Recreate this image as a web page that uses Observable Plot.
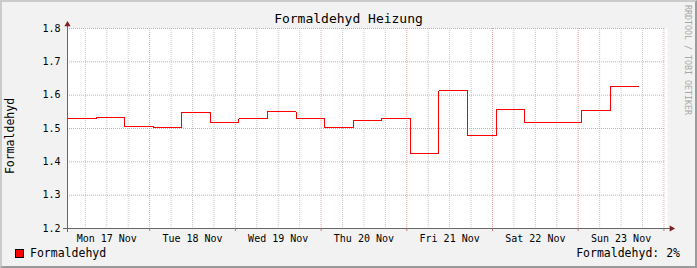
<!DOCTYPE html>
<html>
<head>
<meta charset="utf-8">
<script src="https://cdn.jsdelivr.net/npm/d3@7"></script>
<script src="https://cdn.jsdelivr.net/npm/@observablehq/plot@0.6"></script>
<style>
  html, body { margin: 0; padding: 0; background: #f2f2f2; }
  #wrap { position: relative; width: 697px; height: 268px; overflow: hidden; background: #f2f2f2;
          font-family: "DejaVu Sans Mono", monospace; color: #000; }
  #wrap svg { position: absolute; left: 0; top: 0; }
  .abs { position: absolute; white-space: nowrap; line-height: 1; }
  #border { position: absolute; left: 0; top: 0; width: 697px; height: 268px; box-sizing: border-box;
            border-top: 2px solid #cbcbcb; border-left: 2px solid #cbcbcb;
            border-right: 2px solid #9b9b9b; border-bottom: 2px solid #9b9b9b; pointer-events: none; }
</style>
</head>
<body>
<div id="wrap"></div>
<script>
// ---- data ----
const title = "Formaldehyd Heizung";
const seriesName = "Formaldehyd";
const legendRight = "Formaldehyd: 2%";
const watermark = "RRDTOOL / TOBI OETIKER";
const timeDomain = ["2008-11-17T01:00Z", "2008-11-24T01:00Z"];
const stepStarts = [
  "2008-11-17T01:00Z", "2008-11-17T09:00Z", "2008-11-17T17:00Z",
  "2008-11-18T01:00Z", "2008-11-18T09:00Z", "2008-11-18T17:00Z",
  "2008-11-19T01:00Z", "2008-11-19T09:00Z", "2008-11-19T17:00Z",
  "2008-11-20T01:00Z", "2008-11-20T09:00Z", "2008-11-20T17:00Z",
  "2008-11-21T01:00Z", "2008-11-21T09:00Z", "2008-11-21T17:00Z",
  "2008-11-22T01:00Z", "2008-11-22T09:00Z", "2008-11-22T17:00Z",
  "2008-11-23T01:00Z", "2008-11-23T09:00Z"
];
const lastStepEnd = "2008-11-23T17:00Z";
const values = [
  1.529, 1.534, 1.507,
  1.502, 1.547, 1.517,
  1.529, 1.550, 1.529,
  1.504, 1.523, 1.530,
  1.425, 1.613, 1.479,
  1.556, 1.517, 1.517,
  1.553, 1.625
];
const dayLabels = ["Mon 17 Nov", "Tue 18 Nov", "Wed 19 Nov", "Thu 20 Nov", "Fri 21 Nov", "Sat 22 Nov", "Sun 23 Nov"];
const dayLabelTimes = ["2008-11-17T12:00Z", "2008-11-18T12:00Z", "2008-11-19T12:00Z", "2008-11-20T12:00Z",
                       "2008-11-21T12:00Z", "2008-11-22T12:00Z", "2008-11-23T12:00Z"];
const yTicks = [1.2, 1.3, 1.4, 1.5, 1.6, 1.7, 1.8];
const yDomain = [1.2, 1.8];

// ---- build ----
const t0 = new Date(timeDomain[0]), t1 = new Date(timeDomain[1]);
const lineData = stepStarts.map((t, i) => ({t: new Date(t), v: values[i]}));
lineData.push({t: new Date(lastStepEnd), v: values[values.length - 1]});
const majors = d3.utcDay.range(d3.utcDay.ceil(t0), t1);
const minors = d3.utcHour.every(6).range(t0, t1).filter(d => d.getUTCHours() !== 0);
const labels = dayLabels.map((s, i) => ({t: new Date(dayLabelTimes[i]), s}));
const font = "DejaVu Sans Mono";

const chart = Plot.plot({
  width: 697, height: 268,
  marginLeft: 67, marginRight: 30, marginTop: 28, marginBottom: 40,
  style: {background: "transparent", fontFamily: font, overflow: "visible"},
  x: {type: "utc", domain: [t0, t1], axis: null},
  y: {domain: yDomain, axis: null},
  marks: [
    Plot.frame({fill: "white", stroke: "none"}),
    Plot.ruleX(minors, {stroke: "#c8c8c8", strokeDasharray: "1,1", strokeWidth: 1}),
    Plot.ruleY(yTicks.filter(d => d > yDomain[0]), {stroke: "#e8a0a0", strokeDasharray: "1,1", strokeWidth: 1, insetRight: 2}),
    Plot.ruleX(majors, {stroke: "#e8a0a0", strokeDasharray: "1,1", strokeWidth: 1}),
    Plot.ruleX(majors, {y1: yDomain[0], y2: yDomain[0], stroke: "#e07070", insetBottom: -3}),
    Plot.line(lineData, {x: "t", y: "v", curve: "step-after", stroke: "#ff0000", strokeWidth: 1, shapeRendering: "crispEdges"}),
    Plot.ruleX([t0], {stroke: "#666", insetTop: -3, insetBottom: -4}),
    Plot.ruleY([yDomain[0]], {stroke: "#666", insetLeft: -4, insetRight: -3}),
    Plot.dot([0], {x: () => t0, y: () => yDomain[1], symbol: "triangle", r: 2.3, fill: "#7f1f1f", stroke: "none", dy: -4}),
    Plot.dot([0], {x: () => t1, y: () => yDomain[0], symbol: "triangle", r: 2.3, fill: "#7f1f1f", stroke: "none", rotate: 90, dx: 4}),
    Plot.text(yTicks, {y: d => d, text: d => d.toFixed(1), frameAnchor: "left", textAnchor: "end", dx: -7, fontSize: 10, fill: "#000"}),
    Plot.text(labels, {x: "t", text: "s", frameAnchor: "bottom", lineAnchor: "bottom", dy: 13, fontSize: 10, fill: "#000"})
  ]
});
const wrap = document.getElementById("wrap");
wrap.appendChild(chart);

function addText(txt, css) {
  const d = document.createElement("div");
  d.className = "abs";
  d.textContent = txt;
  Object.assign(d.style, css);
  wrap.appendChild(d);
  return d;
}
// title
addText(title, {left: "0px", width: "697px", textAlign: "center", top: "12px", fontSize: "13px"});
// y label
addText(seriesName, {left: "11px", top: "136px", fontSize: "11.5px", transform: "translate(-50%, -50%) rotate(-90deg)"});
// watermark
addText(watermark, {left: "684px", top: "5px", fontSize: "8.3px", color: "#a8a8a8", writingMode: "vertical-rl"});
// legend
const box = document.createElement("div");
Object.assign(box.style, {position: "absolute", left: "15px", top: "249px", width: "7px", height: "7px",
                          background: "#ff0000", border: "1px solid #000"});
wrap.appendChild(box);
addText(seriesName, {left: "30px", top: "248px", fontSize: "11.5px"});
addText(legendRight, {right: "17px", top: "248px", fontSize: "11.5px"});
const border = document.createElement("div");
border.id = "border";
wrap.appendChild(border);
</script>
</body>
</html>
